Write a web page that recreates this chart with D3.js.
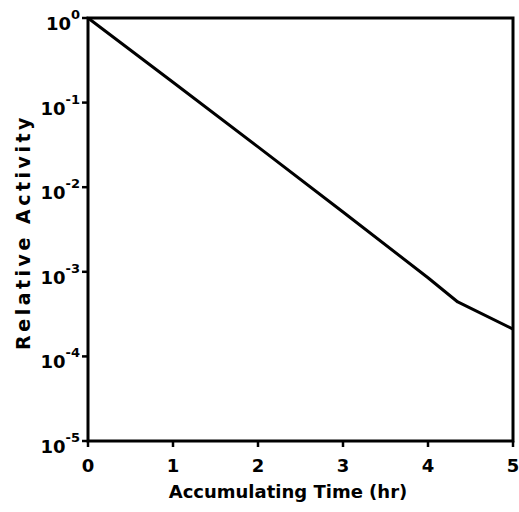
<!DOCTYPE html>
<html>
<head>
<meta charset="utf-8">
<script src="https://cdn.jsdelivr.net/npm/d3@7"></script>
<style>
  body { margin: 0; background: #fff; }
  svg text { font-family: "DejaVu Sans", sans-serif; font-weight: bold; fill: #000; }
</style>
</head>
<body>
<div id="chart"></div>
<script>
// data
var timeHr = [0, 1, 2, 3, 4, 4.35, 5];
var activity = [1, 0.174, 0.030, 0.0051, 0.00085, 0.00044, 0.00021];
var xTicks = [0, 1, 2, 3, 4, 5];
var yExponents = [0, -1, -2, -3, -4, -5];

var W = 519, H = 512;
var margin = {top: 18, right: 6, bottom: 71, left: 88};
var width = W - margin.left - margin.right,
    height = H - margin.top - margin.bottom;

var svg = d3.select("#chart").append("svg")
    .attr("width", W).attr("height", H);

var g = svg.append("g").attr("transform", "translate(" + margin.left + "," + margin.top + ")");

var x = d3.scaleLinear().domain([0, 5]).range([0, width]);
var y = d3.scaleLog().domain([1e-5, 1]).range([height, 0]);

// frame
g.append("rect")
  .attr("x", 0).attr("y", 0)
  .attr("width", width).attr("height", height)
  .attr("fill", "none").attr("stroke", "#000").attr("stroke-width", 3);

// x ticks
g.selectAll(".xtick").data(xTicks).enter().append("line")
  .attr("x1", function(d) { return x(d); }).attr("x2", function(d) { return x(d); })
  .attr("y1", height).attr("y2", height + 6)
  .attr("stroke", "#000").attr("stroke-width", 2.5);

g.selectAll(".xlab").data(xTicks).enter().append("text")
  .attr("x", function(d) { return x(d); })
  .attr("y", height + 31)
  .attr("text-anchor", "middle")
  .style("font-size", "18px")
  .text(function(d) { return d; });

// y ticks
g.selectAll(".ytick").data(yExponents).enter().append("line")
  .attr("x1", -6).attr("x2", 0)
  .attr("y1", function(d) { return y(Math.pow(10, d)); })
  .attr("y2", function(d) { return y(Math.pow(10, d)); })
  .attr("stroke", "#000").attr("stroke-width", 2.5);

var ylab = g.selectAll(".ylab").data(yExponents).enter().append("text")
  .attr("x", -8)
  .attr("y", function(d) { return y(Math.pow(10, d)) + 12; })
  .attr("text-anchor", "end")
  .style("font-size", "18px");
ylab.append("tspan").text("10");
ylab.append("tspan")
  .attr("dy", -11)
  .style("font-size", "13px")
  .text(function(d) { return d; });

// curve
var line = d3.line()
  .x(function(d, i) { return x(timeHr[i]); })
  .y(function(d) { return y(d); });

g.append("path")
  .datum(activity)
  .attr("d", line)
  .attr("fill", "none")
  .attr("stroke", "#000")
  .attr("stroke-width", 3)
  .attr("stroke-linejoin", "round");

// axis titles
svg.append("text")
  .attr("x", 288)
  .attr("y", 498)
  .attr("text-anchor", "middle")
  .style("font-size", "18px")
  .text("Accumulating Time (hr)");

svg.append("text")
  .attr("transform", "translate(30," + 232 + ") rotate(-90)")
  .attr("text-anchor", "middle")
  .style("font-size", "19px")
  .style("letter-spacing", "3.5px")
  .text("Relative  Activity");
</script>
</body>
</html>
